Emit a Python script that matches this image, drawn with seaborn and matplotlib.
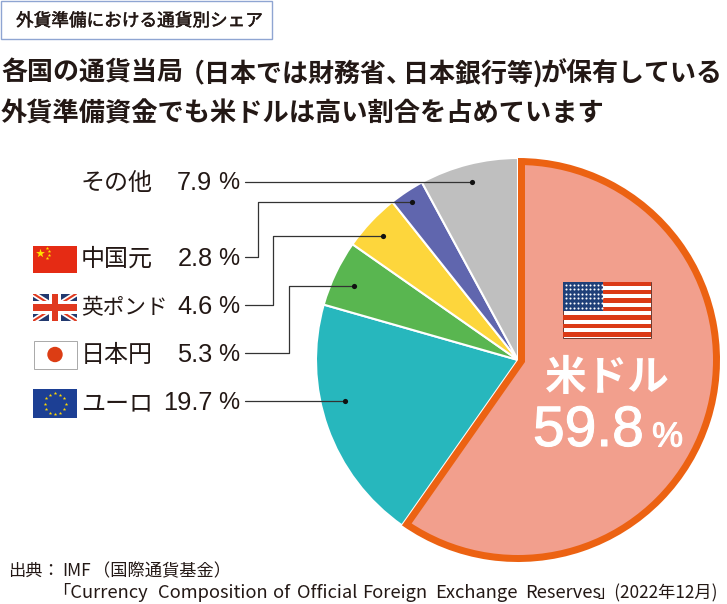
import matplotlib
matplotlib.use('Agg')
import matplotlib.pyplot as plt
import matplotlib.patheffects as pe
from matplotlib.patches import Rectangle, Circle
import seaborn as sns

# Shares, clockwise from the top
currencies = ['米ドル', 'ユーロ', '日本円', '英ポンド', '中国元', 'その他']
shares = [59.8, 19.7, 5.3, 4.6, 2.8, 7.9]
share_labels = ['59.8', '19.7', '5.3', '4.6', '2.8', '7.9']
wedge_colors = ['#ec6212', '#27b7bd', '#59b650', '#fdd63c', '#6066ae', '#bfbfbf']
usd_fill = '#f29f8d'

tag_text = '外貨準備における通貨別シェア'
title_parts = [(1, '各国の通貨当局'), (179, '（日本では財務省、'), (403, '日本銀行等)'), (541, 'が保有している')]
title_line2 = '外貨準備資金でも米ドルは高い割合を占めています'
source_top = [(8, '出典：'), (62, 'IMF'), (93, '（国際通貨基金）')]
source_words = [(52, '「Currency'), (158, 'Composition'), (273, 'of'), (297, 'Official'), (362, 'Foreign'),
                (435, 'Exchange'), (525, 'Reserves')]
source_date = (597, '」(2022年12月)')

sns.set_theme(style='white')
plt.rcParams['font.family'] = ['Noto Sans CJK JP', 'DejaVu Sans']
ink = '#231815'
latin = ['Liberation Sans', 'Noto Sans CJK JP']

fig = plt.figure(figsize=(7.27, 6.04), dpi=100)
# the whole figure is one axes counted in pixels, y going down
ax = fig.add_axes([0, 0, 1, 1])
ax.set_xlim(0, 727)
ax.set_ylim(604, 0)

cx, cy, r = 518, 360, 202
wedges, _ = ax.pie(shares, colors=sns.color_palette(wedge_colors), center=(cx, cy), radius=r,
                   startangle=270, counterclock=True, frame=True,
                   wedgeprops={'edgecolor': 'white', 'linewidth': 1.5})
wedges[0].set_edgecolor('none')
wedges[0].set_zorder(1.5)

# pink fill inside the orange frame: same angles, moved along the bisector, cut by a smaller circle
inner, _ = ax.pie(shares, colors=[usd_fill] + ['none'] * 5, center=(cx + 7, cy + 2), radius=r + 40,
                  startangle=270, counterclock=True, frame=True,
                  wedgeprops={'linewidth': 0})
for w in inner:
    w.set_zorder(1.6)
    w.set_clip_on(True)
    w.set_clip_path(Circle((cx, cy), r - 7, transform=ax.transData))

ax.set_xlim(0, 727)
ax.set_ylim(604, 0)
ax.axis('off')

# Heading
medium = [pe.withStroke(linewidth=0.35, foreground=ink)]
ax.add_patch(Rectangle((0.5, 0.5), 271.5, 38.5, facecolor='white', edgecolor='#8fa5d2', linewidth=1.0))
ax.text(16, 21, tag_text, fontsize=12.7, color=ink, va='center', path_effects=medium)
for x, part in title_parts:
    ax.text(x, 73.5, part, fontsize=18.7, color=ink, va='center', fontweight='bold')
ax.text(1, 114.5, title_line2, fontsize=18.9, color=ink, va='center', fontweight='bold')

# Left labels and leader lines
rows = [(5, 183), (4, 259), (3, 307), (2, 355), (1, 403)]
for i, y in rows:
    ax.text(81, y, currencies[i], fontsize=15.6 if i == 3 else 17.3, color=ink, va='center')
    ax.text(212.5, y, share_labels[i], fontsize=18.3, color=ink, va='center', ha='right', family=latin)
    ax.text(239, y, '%', fontsize=17, color=ink, va='center', ha='right', family=latin)

leaders = [([245, 472], [182, 182]),
           ([245, 258, 258, 412], [257, 257, 202, 202]),
           ([245, 273, 273, 383], [305, 305, 236, 236]),
           ([245, 289, 289, 354], [353, 353, 286, 286]),
           ([245, 345], [401, 401])]
for lx, ly in leaders:
    ax.plot(lx, ly, color='#333333', linewidth=0.9, zorder=2)
sns.scatterplot(x=[l[0][-1] for l in leaders], y=[l[1][-1] for l in leaders], s=14, color='#111111',
                linewidth=0, zorder=3, ax=ax, legend=False)


def flag_box(x0, y0, x1, y1, color, edge='none'):
    box = Rectangle((x0, y0), x1 - x0, y1 - y0, facecolor=color, edgecolor=edge, linewidth=0.7, zorder=4)
    ax.add_patch(box)
    return box


# China
flag_box(33, 245.5, 76.5, 273, '#e52b14')
ax.scatter([40], [252.5], marker='*', s=45, color='#ffe100', linewidth=0, zorder=5)
ax.scatter([46.5, 49, 49, 46.5], [248, 251, 255, 258], marker='*', s=7, color='#ffe100', linewidth=0, zorder=5)

# United Kingdom
uk = flag_box(33, 293.5, 76.5, 321, '#22396f')
for (xs, ys) in [([33, 76.5], [293.5, 321]), ([33, 76.5], [321, 293.5])]:
    a = ax.plot(xs, ys, color='white', linewidth=4, solid_capstyle='butt', zorder=5)[0]
    b = ax.plot(xs, ys, color='#e0391f', linewidth=1.5, solid_capstyle='butt', zorder=5)[0]
    a.set_clip_path(uk)
    b.set_clip_path(uk)
ax.add_patch(Rectangle((48.5, 293.5), 12.5, 27.5, color='white', linewidth=0, zorder=6))
ax.add_patch(Rectangle((33, 301), 43.5, 12.5, color='white', linewidth=0, zorder=6))
ax.add_patch(Rectangle((51.5, 293.5), 6.5, 27.5, color='#e0391f', linewidth=0, zorder=7))
ax.add_patch(Rectangle((33, 304), 43.5, 6.5, color='#e0391f', linewidth=0, zorder=7))

# Japan
flag_box(33.5, 340.5, 76.5, 368.5, 'white', edge='#a9a9a9')
ax.add_patch(Circle((55, 354.5), 7.7, color='#dc3d14', linewidth=0, zorder=5))

# EU
flag_box(33, 389, 76.5, 418, '#1c3f94')
eu_x = [55, 60, 64, 65.5, 64, 60, 55, 50, 46, 44.5, 46, 50]
eu_y = [393, 394.5, 398, 403.5, 409, 412.5, 414, 412.5, 409, 403.5, 398, 394.5]
ax.scatter(eu_x, eu_y, marker='*', s=7, color='#ffd800', linewidth=0, zorder=5)

# United States
flag_box(563, 281.5, 651, 337.5, 'white', edge='#6b3a30')
for k in range(7):
    y0 = 281.5 + k * 56 / 6.6
    ax.add_patch(Rectangle((563, y0), 88, 4.2, color='#db3a16', linewidth=0, zorder=5))
ax.add_patch(Rectangle((563, 281.5), 39.5, 29.5, color='#1f3f78', linewidth=0, zorder=6))
star_x = [565.5 + 4 * n for n in range(10) for m in range(6)]
star_y = [284.5 + 4.6 * m for n in range(10) for m in range(6)]
ax.scatter(star_x, star_y, marker='o', s=2.2, color='white', linewidth=0, zorder=7)

# Big label inside the US wedge
bold_white = [pe.withStroke(linewidth=0.8, foreground='white')]
ax.text(607, 378, currencies[0], fontsize=30, color='white', ha='center', va='center', fontweight='bold')
ax.text(533, 431, share_labels[0], fontsize=41, color='white', ha='left', va='center', family=latin,
        path_effects=bold_white)
ax.text(683, 437, '%', fontsize=25, color='white', ha='right', va='center', family=latin,
        path_effects=bold_white)

# Source
for x, part in source_top:
    ax.text(x, 571, part, fontsize=12.4, color=ink, va='center')
for x, part in source_words:
    ax.text(x, 593, part, fontsize=13.2, color=ink, va='center')
ax.text(source_date[0], 593, source_date[1], fontsize=12.4, color=ink, va='center')

fig.savefig('out.png', dpi=100)
